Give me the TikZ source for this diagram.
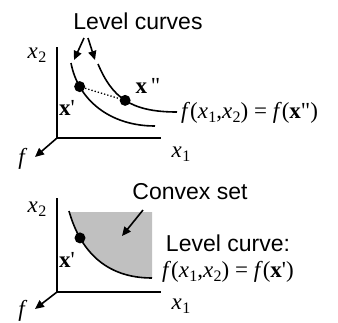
\documentclass[tikz,border=0pt]{standalone}
\usepackage{fontspec}
\setmainfont{Liberation Serif}
\setsansfont{Liberation Sans}
\usetikzlibrary{arrows.meta}
\definecolor{SetGray}{RGB}{192,192,192}
\tikzset{
  axis/.style={line width=1.6pt},
  curve/.style={line width=1.6pt},
  dot/.style={circle,fill=black,inner sep=0pt,minimum size=11pt},
  pointer/.style={line width=1.6pt,-{Triangle[length=9pt,width=8pt]}},
  lbl/.style={font=\fontsize{23}{23}\selectfont\sffamily,inner sep=0pt},
  mlbl/.style={font=\fontsize{23}{23}\selectfont,inner sep=0pt},
}
\newcommand{\xs}[1]{\textit{x}\kern0.3pt\raisebox{-0.4ex}{\fontsize{16}{16}\selectfont #1}}
\newcommand{\bx}{\textbf{x}}

\begin{document}
\begin{tikzpicture}[x=1pt,y=-1pt]
\useasboundingbox (0,0) rectangle (338,322);
% upper panel
\coordinate (o1) at (57,138);
\coordinate (y1) at (57,47);
\coordinate (x1) at (161,138);
\coordinate (f1) at (35,157);
\draw[axis] (y1) -- (o1) -- (x1);
\draw[pointer] (o1) -- (f1);
\node[mlbl] (x2a) at (37,55) {\xs{2}};
\node[mlbl] (x1a) at (181,154) {\xs{1}};
\node[mlbl] (fa) at (23,159) {\textit{f}};
\coordinate (ia) at (71,63);
\coordinate (ib) at (155,126);
\coordinate (oa) at (98,64);
\coordinate (ob) at (177,112);
\draw[curve] (ia) .. controls (78,100) and (110,126) .. (ib) coordinate[pos=0.23] (pa);
\draw[curve] (oa) .. controls (112,97) and (130,112) .. (ob) coordinate[pos=0.5] (pb);
\node[dot] (da) at (pa) {};
\node[dot] (db) at (pb) {};
\draw[line width=1.3pt,dotted] (da) -- (db);
\node[mlbl] (xa) at (67,108) {\bx\textquotesingle};
\node[mlbl] (xb) at (148,86) {\bx\,\textquotedbl};
\node[mlbl,anchor=west] (lev1) at (181,113) {\textit{f}(\xs{1},\xs{2}) = \textit{f}(\bx\textquotedbl)};
\node[lbl] (tl) at (138,21) {Level curves};
\coordinate (ta) at (84,38);
\coordinate (tb) at (88,38);
\coordinate (ea) at (74,60);
\coordinate (eb) at (95,60);
\draw[pointer] (ta) -- (ea);
\draw[pointer] (tb) -- (eb);
% lower panel
\coordinate (o2) at (57,292);
\coordinate (y2) at (57,198);
\coordinate (x2) at (161,292);
\coordinate (f2) at (35,309);
\coordinate (ca) at (69,211);
\coordinate (cb) at (152,278);
\begin{scope}
\clip (60,212) rectangle (152,280);
\fill[SetGray] (ca) .. controls (80,250) and (105,278) .. (cb) -- (152,205) -- cycle;
\end{scope}
\draw[axis] (y2) -- (o2) -- (x2);
\draw[pointer] (o2) -- (f2);
\node[mlbl] (x2b) at (37,209) {\xs{2}};
\node[mlbl] (x1b) at (181,306) {\xs{1}};
\node[mlbl] (fb) at (23,311) {\textit{f}};
\draw[curve] (ca) .. controls (80,250) and (105,278) .. (cb) coordinate[pos=0.25] (pc);
\node[dot] (dc) at (pc) {};
\node[mlbl] (xc) at (67,260) {\bx\textquotesingle};
\node[lbl] (cs) at (190,192) {Convex set};
\coordinate (cs0) at (143,210);
\coordinate (cs1) at (122,236);
\draw[pointer] (cs0) -- (cs1);
\node[lbl] (lc) at (228,243) {Level curve:};
\node[mlbl,anchor=west] (lev2) at (162,272) {\textit{f}(\xs{1},\xs{2}) = \textit{f}(\bx\textquotesingle)};
\end{tikzpicture}
\end{document}
